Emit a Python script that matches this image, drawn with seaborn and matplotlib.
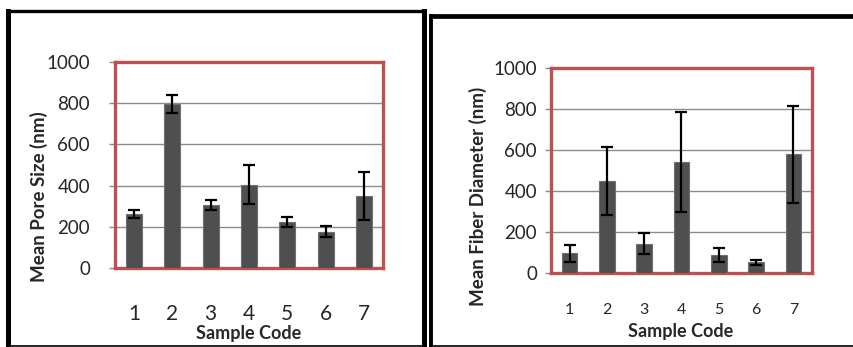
import matplotlib
matplotlib.use("Agg")
import matplotlib.pyplot as plt
from matplotlib.lines import Line2D
import seaborn as sns
import pandas as pd
import numpy as np

# --- data ---
samples = ["1", "2", "3", "4", "5", "6", "7"]
pore_mean = [262, 797, 307, 405, 225, 177, 350]
pore_err = [20, 43, 24, 95, 25, 28, 118]
fiber_mean = [95, 448, 142, 540, 87, 50, 580]
fiber_err = [41, 168, 52, 245, 35, 12, 238]
y_ticks = [0, 200, 400, 600, 800, 1000]

sns.set_theme(style="white")
plt.rcParams['font.family'] = ['Lato', 'DejaVu Sans']

W, H = 854, 347
fig = plt.figure(figsize=(W / 100, H / 100), dpi=100)

RED = "#c0504d"
BAR = "#4f4f4f"


def px(x, y):
    # pixel coords (top-left origin) -> figure fraction
    return x / W, 1 - y / H


def add_line(x0, y0, x1, y1, lw):
    (a, b), (c, d) = px(x0, y0), px(x1, y1)
    fig.add_artist(Line2D([a, c], [b, d], color="black", lw=lw,
                          transform=fig.transFigure, solid_capstyle="projecting"))


# black panel borders
add_line(8, 10.5, 8, 346, 3.6)
add_line(8, 10.5, 424.5, 10.5, 2.4)
add_line(424.5, 10.5, 424.5, 346, 3.6)
add_line(8, 346, 424.5, 346, 1.2)
add_line(431, 16, 431, 346, 2.8)
add_line(431, 16, 860, 16, 3.4)
add_line(431, 345.5, 860, 345.5, 1.2)


def panel(rect, means, errs, ylabel, xt_size, yt_size, xpad, ypad,
          ylab_xy, xlab_xy):
    ax = fig.add_axes(rect)
    df = pd.DataFrame({"Sample Code": samples, "value": means})
    sns.barplot(data=df, x="Sample Code", y="value", color=BAR,
                width=0.42, edgecolor="#707070", linewidth=0.8,
                saturation=1, ax=ax, zorder=3)
    ax.errorbar(np.arange(len(samples)), means, yerr=errs, fmt="none",
                ecolor="black", elinewidth=1.6, capsize=4.5, capthick=1.6,
                zorder=4)
    ax.set_ylim(0, 1000)
    ax.set_xlim(-0.5, len(samples) - 0.5)
    ax.set_yticks(y_ticks)
    ax.yaxis.grid(True, color="#8c8c8c", lw=1)
    ax.set_axisbelow(True)
    for s in ax.spines.values():
        s.set_color(RED)
        s.set_linewidth(2.4)
    ax.tick_params(axis="y", labelsize=yt_size, length=4, width=1,
                   color="#8c8c8c", pad=ypad, left=True)
    ax.tick_params(axis="x", labelsize=xt_size, length=0, pad=xpad)
    ax.set_ylabel(ylabel, fontsize=13.5, fontweight="bold")
    ax.set_xlabel("Sample Code", fontsize=13, fontweight="bold")
    ax.yaxis.set_label_coords(*ylab_xy)
    ax.xaxis.set_label_coords(*xlab_xy)
    return ax


# left panel: pixels x 115..383, y 62..268
l0, b0 = px(115, 268)
panel([l0, b0, 268 / W, 206 / H], pore_mean, pore_err,
      "Mean Pore Size (nm)", 15, 13.5, 26, 14,
      (-0.25, 0.345), (0.498, -0.277))

# right panel: pixels x 551..812, y 68..273
l1, b1 = px(551, 272.7)
panel([l1, b1, 261 / W, 204.4 / H], fiber_mean, fiber_err,
      "Mean Fiber Diameter (nm)", 11.5, 13.5, 22, 6,
      (-0.245, 0.373), (0.498, -0.246))

fig.savefig("out.png", dpi=100)
